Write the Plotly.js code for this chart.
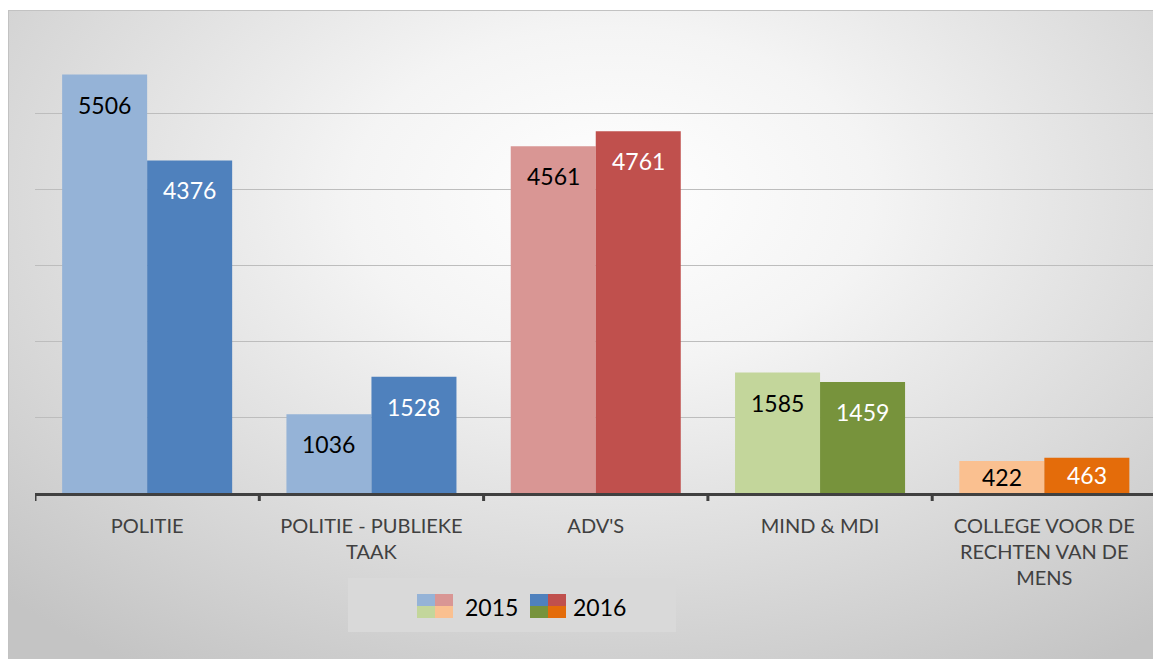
<!DOCTYPE html>
<html>
<head>
<meta charset="utf-8">
<script src="https://cdn.plot.ly/plotly-3.0.1.min.js"></script>
<style>
  html, body { margin:0; padding:0; background:#ffffff; }
  #wrap { position:relative; width:1153px; height:659px; overflow:hidden; }
  #bg { position:absolute; left:8px; top:10px; width:1160px; height:660px;
        background: radial-gradient(ellipse 75% 85% at 52% 28%, #ffffff 0%, #f4f4f4 30%, #dcdcdc 65%, #c4c4c4 100%);
        border-top:1px solid #c2c2c2; border-left:1px solid #c2c2c2; }
  #chart { position:absolute; left:0; top:0; width:1153px; height:659px; }
</style>
</head>
<body>
<div id="wrap">
  <div id="bg"></div>
  <div id="chart"></div>
</div>
<script>
const categories = ['POLITIE', 'POLITIE - PUBLIEKE<br>TAAK', "ADV'S", 'MIND &amp; MDI', 'COLLEGE VOOR DE<br>RECHTEN VAN DE<br>MENS'];
const seriesNames = ['2015', '2016'];
const values2015 = [5506, 1036, 4561, 1585, 422];
const values2016 = [4376, 1528, 4761, 1459, 463];
const colors2015 = ['#95B3D7', '#95B3D7', '#D99694', '#C3D69B', '#FAC090'];
const colors2016 = ['#4F81BD', '#4F81BD', '#C0504D', '#77933C', '#E46C0A'];

const W = 1153, H = 659;
const mL = 35, mR = 0, mT = 37, mB = 166;
const plotW = W - mL - mR, plotH = H - mT - mB;
const yMax = 6000;
const catPx = 224.3;
const bargap = 0.242;
const xRange = [-0.5, -0.5 + plotW / catPx];
const font = 'Lato, "Open Sans", sans-serif';

const traces = [
  { type:'bar', name:seriesNames[0], x:[0,1,2,3,4], y:values2015, marker:{color:colors2015}, hoverinfo:'skip' },
  { type:'bar', name:seriesNames[1], x:[0,1,2,3,4], y:values2016, marker:{color:colors2016}, hoverinfo:'skip' }
];

// data labels (inside end, centred when the bar is short)
const annotations = [];
const off = (1 - bargap) / 4;
const pxPerUnit = plotH / yMax;
[[values2015, -off, '#000000'], [values2016, off, '#ffffff']].forEach(([vals, dx, col]) => {
  vals.forEach((v, i) => {
    const h = v * pxPerUnit;
    annotations.push({
      x: i + dx, y: v, xref:'x', yref:'y', text: String(v), showarrow:false,
      yshift: -Math.min(30, h / 2), yanchor:'middle', xanchor:'center',
      font:{family:font, size:23, color:col}
    });
  });
});

// custom legend with four-colour swatches
const px2x = p => (p - mL) / plotW;
const py2y = p => (H - mB - p) / plotH;
const shapes = [];
shapes.push({type:'rect', xref:'paper', yref:'paper', x0:px2x(348), x1:px2x(676), y0:py2y(632), y1:py2y(578), fillcolor:'#D9D9D9', line:{width:0}, layer:'below'});
function swatch(x0, cols) {
  const x1 = x0 + 36, y0 = 594, y1 = 618, xm = (x0 + x1) / 2, ym = (y0 + y1) / 2;
  const quads = [[x0, xm, y0, ym, cols[0]], [xm, x1, y0, ym, cols[2]], [x0, xm, ym, y1, cols[3]], [xm, x1, ym, y1, cols[4]]];
  quads.forEach(q => shapes.push({type:'rect', xref:'paper', yref:'paper', x0:px2x(q[0]), x1:px2x(q[1]), y0:py2y(q[3]), y1:py2y(q[2]), fillcolor:q[4], line:{width:0}}));
}
swatch(417, colors2015);
swatch(530, colors2016);
annotations.push({xref:'paper', yref:'paper', x:px2x(463), y:py2y(607), xanchor:'left', yanchor:'middle', text:seriesNames[0], showarrow:false, font:{family:font, size:23, color:'#000000'}});
annotations.push({xref:'paper', yref:'paper', x:px2x(571), y:py2y(607), xanchor:'left', yanchor:'middle', text:seriesNames[1], showarrow:false, font:{family:font, size:23, color:'#000000'}});

const layout = {
  width: W, height: H,
  margin: {l:mL, r:mR, t:mT, b:mB, pad:0},
  paper_bgcolor:'rgba(0,0,0,0)', plot_bgcolor:'rgba(0,0,0,0)',
  barmode:'group', bargap: bargap, bargroupgap: 0,
  showlegend:false,
  xaxis: {
    type:'linear', range:xRange, tickmode:'array', tickvals:[0,1,2,3,4], ticktext:categories,
    showgrid:false, zeroline:false, showline:true, linecolor:'#404040', linewidth:3,
    ticks:'', tickfont:{family:font, size:20, color:'#404040'}, ticklabelstandoff: 13
  },
  yaxis: {
    range:[0, yMax], dtick:1000, showticklabels:false, showgrid:true, gridcolor:'#BDBDBD', gridwidth:1,
    zeroline:false, showline:false, ticks:''
  },
  annotations: annotations,
  shapes: shapes.concat([0,1,2,3,4,5].map(k => ({type:'line', xref:'x', yref:'paper', x0:k-0.5, x1:k-0.5, y0:0, y1:-8/plotH, line:{color:'#404040', width:3}})))
};

Plotly.newPlot('chart', traces, layout, {staticPlot:true, displayModeBar:false});
</script>
</body>
</html>
